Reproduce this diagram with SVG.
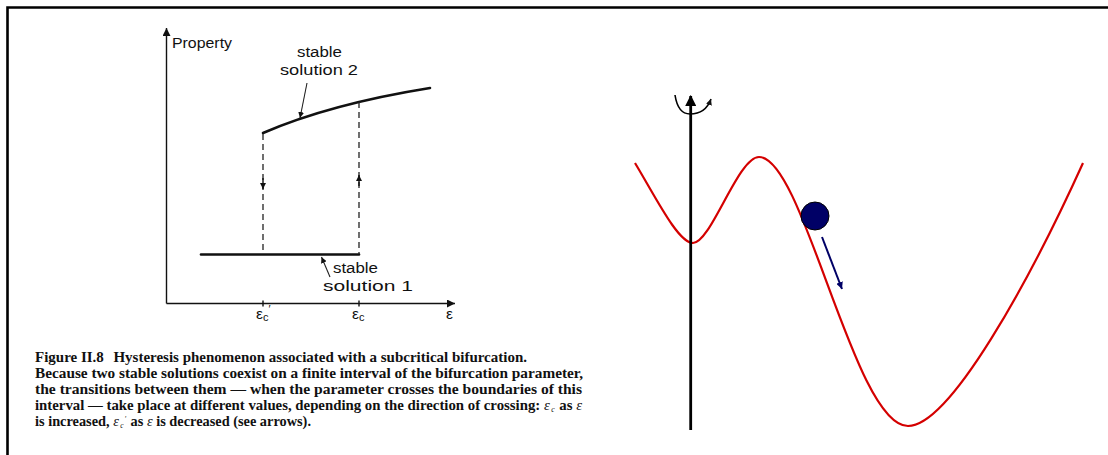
<svg xmlns="http://www.w3.org/2000/svg" width="1108" height="455" viewBox="0 0 1108 455">
<defs>
<style>
.ax{stroke:#111;stroke-width:1.4;fill:none}
.thick{stroke:#111;stroke-width:2.6;fill:none;stroke-linecap:round}
.dash{stroke:#222;stroke-width:1.3;fill:none;stroke-dasharray:6,4}
.lead{stroke:#222;stroke-width:1.1;fill:none}
.lab{font-family:"Liberation Sans","DejaVu Sans",sans-serif;font-size:15.5px;fill:#111}
.cap{font-family:"Liberation Serif","DejaVu Serif",serif;font-size:15.5px;font-weight:bold;fill:#111}
.it{font-style:italic;font-weight:normal}
.red{stroke:#d40000;stroke-width:2.2;fill:none}
</style>
<marker id="ah" viewBox="0 0 10 10" refX="10" refY="5" markerWidth="8" markerHeight="8" markerUnits="userSpaceOnUse" orient="auto"><path d="M0,0 L10,5 L0,10 z" fill="#111"/></marker>
<marker id="ahs" viewBox="0 0 10 10" refX="10" refY="5" markerWidth="6" markerHeight="6" markerUnits="userSpaceOnUse" orient="auto"><path d="M0,0 L10,5 L0,10 z" fill="#111"/></marker>
<marker id="ahb" viewBox="0 0 10 10" refX="10" refY="5" markerWidth="7" markerHeight="7" markerUnits="userSpaceOnUse" orient="auto"><path d="M0,0 L10,5 L0,10 z" fill="#000066"/></marker>
<marker id="ahk" viewBox="0 0 10 10" refX="9" refY="5" markerWidth="11" markerHeight="11" markerUnits="userSpaceOnUse" orient="auto"><path d="M0,0 L10,5 L0,10 z" fill="#000"/></marker>
</defs>
<rect width="1108" height="455" fill="#fff"/>
<g id="frame"><path d="M7.5,455 L7.5,7.5 L1108,7.5" stroke="#000" stroke-width="2.6" fill="none"/></g>

<g id="axes">
<line class="ax" x1="166.5" y1="303.5" x2="166.5" y2="28" marker-end="url(#ah)"/>
<line class="ax" x1="166.5" y1="303.5" x2="455" y2="303.5" marker-end="url(#ah)"/>
<line class="ax" x1="263" y1="300.5" x2="263" y2="306.5"/>
<line class="ax" x1="359" y1="300.5" x2="359" y2="306.5"/>
<text class="lab" x="172" y="48" textLength="60" lengthAdjust="spacingAndGlyphs">Property</text>
</g>
<g id="solution1">
<line class="thick" x1="201" y1="254.5" x2="359" y2="254.5"/>
<text class="lab" x="333" y="273" textLength="45" lengthAdjust="spacingAndGlyphs">stable</text>
<text class="lab" x="323" y="291" textLength="90" lengthAdjust="spacingAndGlyphs">solution 1</text>
</g>
<g id="solution2">
<path class="thick" d="M263,133 Q330,104 430,88"/>
<text class="lab" x="297" y="57" textLength="45" lengthAdjust="spacingAndGlyphs">stable</text>
<text class="lab" x="280" y="75" textLength="78" lengthAdjust="spacingAndGlyphs">solution 2</text>
</g>
<g id="labels-eps">
<text class="lab" x="256" y="319" font-size="17">ε<tspan font-size="11" dy="2">c</tspan><tspan font-size="11" dy="-8">′</tspan></text>
<text class="lab" x="352" y="319" font-size="17">ε<tspan font-size="11" dy="2">c</tspan></text>
<text class="lab" x="446" y="319" font-size="17">ε</text>
</g>
<g id="connectors">
<line class="dash" x1="263" y1="134" x2="263" y2="254"/>
<line class="dash" x1="359" y1="102" x2="359" y2="254"/>
<line class="ax" x1="263" y1="178" x2="263" y2="189" marker-end="url(#ahs)"/>
<line class="ax" x1="359" y1="186" x2="359" y2="175" marker-end="url(#ahs)"/>
<line class="lead" x1="307" y1="83" x2="300" y2="118" marker-end="url(#ahs)"/>
<line class="lead" x1="330" y1="277" x2="321.5" y2="257" marker-end="url(#ahs)"/>
</g>

<g id="caption">
<text class="cap" x="35" y="362" textLength="492" lengthAdjust="spacingAndGlyphs">Figure II.8<tspan dx="10">Hysteresis phenomenon associated with a subcritical bifurcation.</tspan></text>
<text class="cap" x="35" y="378" textLength="548" lengthAdjust="spacingAndGlyphs">Because two stable solutions coexist on a finite interval of the bifurcation parameter,</text>
<text class="cap" x="35" y="394" textLength="547" lengthAdjust="spacingAndGlyphs">the transitions between them — when the parameter crosses the boundaries of this</text>
<text class="cap" x="35" y="410" textLength="547" lengthAdjust="spacingAndGlyphs">interval — take place at different values, depending on the direction of crossing: <tspan class="it">ε</tspan><tspan class="it" font-size="8" dx="1.5" dy="2">c</tspan><tspan dx="1" dy="-2"> as </tspan><tspan class="it">ε</tspan></text>
<text class="cap" x="35" y="426" textLength="276" lengthAdjust="spacingAndGlyphs">is increased, <tspan class="it">ε</tspan><tspan class="it" font-size="8" dx="1.5" dy="2">c</tspan><tspan class="it" font-size="8" dx="1" dy="-6">′</tspan><tspan dx="1" dy="4"> as </tspan><tspan class="it">ε</tspan> is decreased (see arrows).</text>
</g>

<g id="potential">
<path class="red" d="M635,163 C655,196 678,243 693,243 C711,243 738,157 759,157 C804,157 854,426 908,426 C950,426 1030,280 1083,163"/>
</g>
<g id="vaxis">
<line x1="690.7" y1="430" x2="690.7" y2="96" stroke="#000" stroke-width="2.8" marker-end="url(#ahk)"/>
<path d="M675,95 C677,108 682,114 690,114 C700,114 707,110 711,99" stroke="#000" stroke-width="1.6" fill="none" marker-end="url(#ahs)"/>
</g>
<g id="ball">
<circle cx="815" cy="216" r="14" fill="#000066" stroke="#000" stroke-width="1"/>
</g>
<g id="motion">
<line x1="822" y1="237" x2="842" y2="289" stroke="#000066" stroke-width="2" marker-end="url(#ahb)"/>
</g>
</svg>
